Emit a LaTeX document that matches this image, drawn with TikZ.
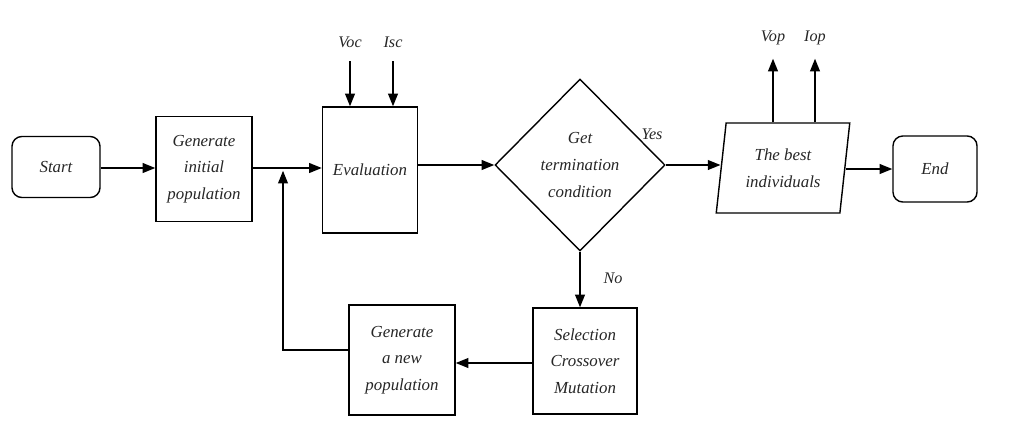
\documentclass[tikz,border=0pt]{standalone}
\usepackage{fontspec}
\setmainfont{Liberation Serif}
\usepackage{tikz}
\usetikzlibrary{arrows.meta, shapes.geometric, calc}

\tikzset{
	block/.style={draw, line width=1pt, align=center, inner sep=2pt,
		font=\itshape\fontsize{12}{19}\selectfont, text=black!85},
	term/.style={block, rounded corners=7pt},
	flow/.style={-{Triangle[length=9pt, width=7pt]}, line width=1pt},
	lbl/.style={font=\itshape\fontsize{11.5}{13}\selectfont, text=black!85, inner sep=1pt}
}

\begin{document}
\begin{tikzpicture}[x=0.025cm, y=-0.025cm]
	\useasboundingbox (0, 0) rectangle (1017, 428);

	% main row
	\node[term, minimum width=2.2cm, minimum height=1.525cm] (start) at (56, 167) {Start};
	\node[block, minimum width=2.4cm, minimum height=2.625cm] (init) at (204, 169) {Generate\\initial\\population};
	\node[block, minimum width=2.375cm, minimum height=3.15cm] (eval) at (370, 170) {Evaluation};
	\node[block, diamond, inner sep=0pt, minimum width=4.25cm, minimum height=4.3cm] (cond) at (580, 165) {Get\\termination\\condition};
	\node[block, trapezium, trapezium left angle=81, trapezium right angle=99, trapezium stretches=true,
		minimum width=3.35cm, minimum height=2.25cm] (best) at (783, 168) {The best\\individuals};
	\node[term, minimum width=2.1cm, minimum height=1.65cm] (end) at (935, 169) {End};

	% lower row
	\node[block, minimum width=2.6cm, minimum height=2.65cm] (sel) at (585, 361) {Selection\\Crossover\\Mutation};
	\node[block, minimum width=2.65cm, minimum height=2.75cm] (newpop) at (402, 360) {Generate\\a new\\population};

	% inputs and outputs
	\node[lbl] (voc) at (350, 42) {Voc};
	\node[lbl] (isc) at (393, 42) {Isc};
	\node[lbl] (vop) at (773, 38) {Vop};
	\node[lbl] (iop) at (815, 38) {Iop};
	\node[lbl] (yes) at (652, 134) {Yes};
	\node[lbl] (no) at (613, 278) {No};
	\coordinate (merge) at (283, 168);

	\draw[flow] (start.east |- 0, 168) -- (init.west |- 0, 168);
	\draw[flow] (init.east |- 0, 168) -- (eval.west |- 0, 168);
	\draw[flow] (eval.east |- cond.west) -- (cond.west);
	\draw[flow] (cond.east) -- (best.west |- cond.east);
	\draw[flow] (best.east |- end.west) -- (end.west);
	\draw[flow] (cond.south) -- (cond.south |- sel.north);
	\draw[flow] (sel.west |- 0, 363) -- (newpop.east |- 0, 363);
	\draw[flow] (newpop.west |- 0, 350) -| ([yshift=-2pt]merge);

	\draw[flow] ($(voc.south)+(0, 12)$) -- (voc |- eval.north);
	\draw[flow] ($(isc.south)+(0, 12)$) -- (isc |- eval.north);
	\draw[flow] (vop |- best.north) -- ($(vop.south)+(0, 12)$);
	\draw[flow] (iop |- best.north) -- ($(iop.south)+(0, 12)$);
\end{tikzpicture}
\end{document}
